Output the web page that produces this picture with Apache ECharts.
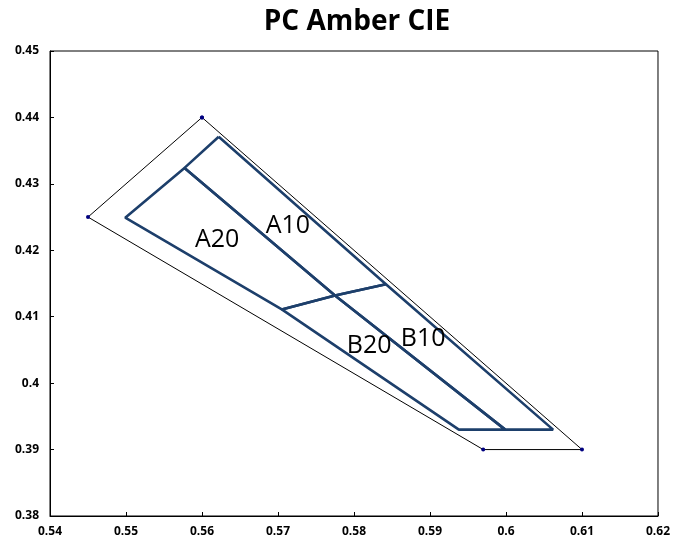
<!DOCTYPE html>
<html>
<head>
<meta charset="utf-8">
<script src="https://cdn.jsdelivr.net/npm/echarts@6/dist/echarts.min.js"></script>
<style>html,body{margin:0;padding:0;background:#fff}#c{width:673px;height:549px}</style>
</head>
<body>
<div id="c"></div>
<script>
// Outer limit polygon (with corner markers)
const outerX = [0.56, 0.545, 0.597, 0.61, 0.56];
const outerY = [0.44, 0.425, 0.39, 0.39, 0.44];
// Bins
const a20X = [0.5577, 0.5499, 0.5705, 0.5775, 0.5577];
const a20Y = [0.4324, 0.4249, 0.4111, 0.4132, 0.4324];
const a10X = [0.5622, 0.5577, 0.5775, 0.5842, 0.5622];
const a10Y = [0.4371, 0.4324, 0.4132, 0.4149, 0.4371];
const b20X = [0.5705, 0.5938, 0.5999, 0.5775, 0.5705];
const b20Y = [0.4111, 0.3930, 0.3930, 0.4132, 0.4111];
const b10X = [0.5775, 0.5999, 0.6062, 0.5842, 0.5775];
const b10Y = [0.4132, 0.3930, 0.3930, 0.4149, 0.4132];
// Bin labels
const labelNames = ['A20', 'A10', 'B20', 'B10'];
const labelX = [0.5620, 0.5713, 0.5820, 0.5891];
const labelY = [0.4216, 0.4237, 0.4056, 0.4066];
// Axis ranges / ticks
const xMin = 0.54, xMax = 0.62, xStep = 0.01;
const yMin = 0.38, yMax = 0.45, yStep = 0.01;

const zip = (xs, ys) => xs.map((x, i) => [x, ys[i]]);
const binColor = '#1d3f6b';
const binSeries = [[a20X, a20Y], [a10X, a10Y], [b20X, b20Y], [b10X, b10Y]].map(([xs, ys]) => ({
  type: 'line', data: zip(xs, ys), showSymbol: false, symbol: 'none',
  lineStyle: { color: binColor, width: 2.6 }, animation: false, z: 3
}));

const chart = echarts.init(document.getElementById('c'), null, { renderer: 'canvas' });
chart.setOption({
  animation: false,
  backgroundColor: '#fff',
  title: {
    text: 'PC Amber CIE', left: 352, top: 3, textAlign: 'center',
    textStyle: { fontFamily: 'Open Sans', fontWeight: 'bold', fontSize: 28, color: '#000' }
  },
  grid: { left: 50, right: 13, top: 51, bottom: 33, show: true, borderColor: '#000', borderWidth: 1, containLabel: false },
  xAxis: {
    type: 'value', min: xMin, max: xMax, interval: xStep,
    axisLine: { show: true, lineStyle: { color: '#000', width: 1 } },
    axisTick: { show: true, inside: true, length: 4, lineStyle: { color: '#000' } },
    splitLine: { show: false },
    axisLabel: { fontFamily: 'Open Sans', fontWeight: 'bold', fontSize: 12, color: '#000', margin: 10,
      formatter: v => String(parseFloat(v.toFixed(2))) }
  },
  yAxis: {
    type: 'value', min: yMin, max: yMax, interval: yStep,
    axisLine: { show: true, lineStyle: { color: '#000', width: 1 } },
    axisTick: { show: true, inside: true, length: 4, lineStyle: { color: '#000' } },
    splitLine: { show: false },
    axisLabel: { fontFamily: 'Open Sans', fontWeight: 'bold', fontSize: 12, color: '#000', margin: 11,
      formatter: v => String(parseFloat(v.toFixed(2))) }
  },
  series: [
    {
      type: 'line', data: zip(outerX, outerY), symbol: 'circle', symbolSize: 4, showSymbol: true,
      itemStyle: { color: '#000080' }, lineStyle: { color: '#000', width: 1 }, z: 2
    },
    ...binSeries,
    {
      type: 'scatter', symbolSize: 0, z: 4,
      itemStyle: { opacity: 1 },
      data: labelNames.map((n, i) => ({ name: n, value: [labelX[i], labelY[i]] })),
      label: { show: true, position: 'inside', formatter: p => p.name, color: '#000', opacity: 1,
        fontFamily: 'Open Sans', fontSize: 25, align: 'center', verticalAlign: 'middle' }
    }
  ]
});
</script>
</body>
</html>
